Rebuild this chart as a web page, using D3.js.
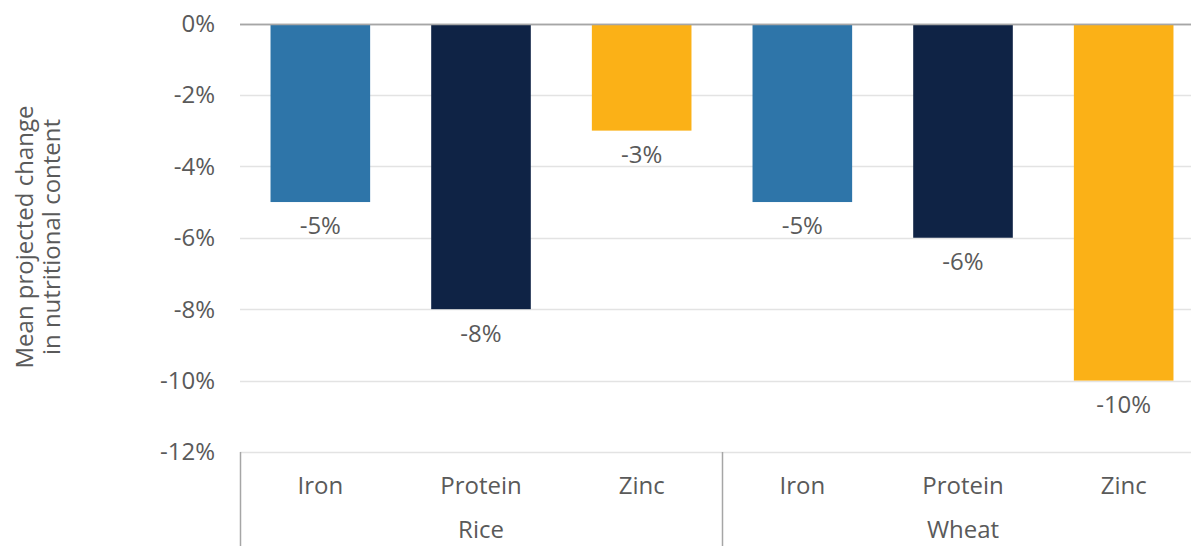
<!DOCTYPE html>
<html>
<head>
<meta charset="utf-8">
<script src="https://cdn.jsdelivr.net/npm/d3@7"></script>
<style>
  body { margin: 0; background: #fff; }
  svg text { font-family: "Open Sans", "Lato", sans-serif; fill: #5a5a5a; }
</style>
</head>
<body>
<svg width="1191" height="546"></svg>
<script>
// values
const groups = ['Rice', 'Wheat'];
const nutrients = ['Iron', 'Protein', 'Zinc'];
const riceValues = [-5, -8, -3];
const wheatValues = [-5, -6, -10];
const yTicks = [0, -2, -4, -6, -8, -10, -12];
const colors = { Iron: '#2e75a9', Protein: '#0f2345', Zinc: '#fbb117' };

const data = [];
groups.forEach((g, gi) => {
  const vals = gi === 0 ? riceValues : wheatValues;
  nutrients.forEach((n, i) => data.push({ key: g + '-' + n, group: g, nutrient: n, value: vals[i] }));
});

const svg = d3.select('svg');
const margin = { left: 240, top: 23.5, right: -13 };
const width = 1191 - margin.left - margin.right;
const plotH = 452 - margin.top;
const fs = '24px';

const x = d3.scaleBand()
  .domain(data.map((d) => d.key))
  .range([margin.left, margin.left + width])
  .paddingInner(0.38)
  .paddingOuter(0.19);

const y = d3.scaleLinear()
  .domain([0, -12])
  .range([margin.top, margin.top + plotH]);

// gridlines
svg.append('g')
  .selectAll('line')
  .data(yTicks)
  .join('line')
  .attr('x1', margin.left)
  .attr('x2', margin.left + width)
  .attr('y1', (d) => Math.round(y(d)) + 0.5)
  .attr('y2', (d) => Math.round(y(d)) + 0.5)
  .attr('stroke', (d) => d === 0 ? '#a6a6a6' : '#e3e3e3')
  .attr('stroke-width', 1.5);

// y tick labels
svg.append('g')
  .selectAll('text')
  .data(yTicks)
  .join('text')
  .attr('x', 215)
  .attr('y', (d) => y(d))
  .attr('dy', '0.35em')
  .attr('text-anchor', 'end')
  .style('font-size', fs)
  .text((d) => d + '%');

// bars
svg.append('g')
  .selectAll('rect')
  .data(data)
  .join('rect')
  .attr('x', (d) => x(d.key))
  .attr('y', y(0) + 1)
  .attr('width', x.bandwidth())
  .attr('height', (d) => y(d.value) - y(0) - 1)
  .attr('fill', (d) => colors[d.nutrient]);

// zero line redrawn on top
svg.append('line')
  .attr('x1', margin.left).attr('x2', margin.left + width)
  .attr('y1', Math.round(y(0)) + 0.5).attr('y2', Math.round(y(0)) + 0.5)
  .attr('stroke', '#a6a6a6').attr('stroke-width', 1.5);

// value labels
svg.append('g')
  .selectAll('text')
  .data(data)
  .join('text')
  .attr('x', (d) => x(d.key) + x.bandwidth() / 2)
  .attr('y', (d) => y(d.value) + 24)
  .attr('dy', '0.35em')
  .attr('text-anchor', 'middle')
  .style('font-size', fs)
  .text((d) => d.value + '%');

// category axis
const step = x.step();
const axisG = svg.append('g');
axisG.selectAll('text.sub')
  .data(data)
  .join('text')
  .attr('class', 'sub')
  .attr('x', (d) => x(d.key) + x.bandwidth() / 2)
  .attr('y', 486)
  .attr('dy', '0.35em')
  .attr('text-anchor', 'middle')
  .style('font-size', fs)
  .text((d) => d.nutrient);

groups.forEach((g) => {
  const first = x(g + '-' + nutrients[0]);
  const last = x(g + '-' + nutrients[nutrients.length - 1]) + x.bandwidth();
  axisG.append('text')
    .attr('x', (first + last) / 2)
    .attr('y', 530)
    .attr('dy', '0.35em')
    .attr('text-anchor', 'middle')
    .style('font-size', fs)
    .text(g);
});

// separators
const sepX = [margin.left, margin.left + step * 3];
axisG.selectAll('line')
  .data(sepX)
  .join('line')
  .attr('x1', (d) => Math.round(d) + 0.5)
  .attr('x2', (d) => Math.round(d) + 0.5)
  .attr('y1', y(-12))
  .attr('y2', 546)
  .attr('stroke', '#a6a6a6')
  .attr('stroke-width', 1.5);

// y axis title
const title = svg.append('text')
  .attr('transform', 'translate(38,237) rotate(-90)')
  .attr('text-anchor', 'middle')
  .style('font-size', fs);
title.append('tspan').attr('x', 0).attr('dy', '-0.2em').text('Mean projected change');
title.append('tspan').attr('x', 0).attr('dy', '1.12em').text('in nutritional content');
</script>
</body>
</html>
